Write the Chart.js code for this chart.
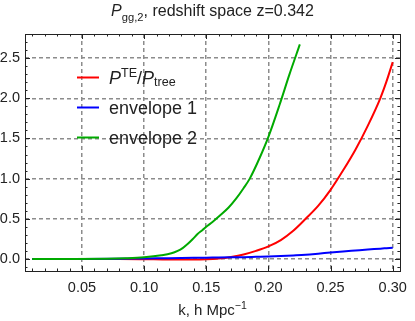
<!DOCTYPE html>
<html>
<head>
<meta charset="utf-8">
<script src="https://cdn.jsdelivr.net/npm/chart.js@4.4.1/dist/chart.umd.min.js"></script>
<style>
  html, body { margin: 0; padding: 0; background: #fff; }
  #chart { display: block; }
</style>
</head>
<body>
<canvas id="chart" width="415" height="321"></canvas>
<script>
// k grid shared by the red and blue curves
const kGrid = [0.01, 0.05, 0.08, 0.10, 0.12, 0.14, 0.15, 0.16, 0.17, 0.18, 0.19,
               0.20, 0.21, 0.22, 0.23, 0.24, 0.25, 0.26, 0.27, 0.28, 0.29, 0.295, 0.30];
const ratioVals = [0, 0, 0, -0.003, -0.008, -0.008, -0.005, 0.005, 0.025, 0.055, 0.10,
                   0.156, 0.235, 0.35, 0.50, 0.66, 0.86, 1.10, 1.36, 1.66, 2.00, 2.21, 2.45];
const env1Vals = [0, 0, 0.002, 0.006, 0.01, 0.014, 0.016, 0.018, 0.02, 0.022, 0.026,
                  0.03, 0.036, 0.044, 0.053, 0.066, 0.08, 0.093, 0.105, 0.117, 0.128, 0.134, 0.14];

// envelope 2 stops early, own grid
const kEnv2 = [0.01, 0.04, 0.07, 0.085, 0.10, 0.114, 0.122, 0.127, 0.131, 0.135, 0.139,
               0.143, 0.147, 0.15, 0.155, 0.161, 0.168, 0.174, 0.18, 0.185, 0.193,
               0.20, 0.209, 0.217, 0.2253];
const env2Vals = [0, 0, 0.002, 0.008, 0.02, 0.045, 0.07, 0.10, 0.135, 0.185, 0.245,
                  0.31, 0.36, 0.40, 0.46, 0.54, 0.64, 0.75, 0.88, 1.0, 1.26,
                  1.52, 1.92, 2.30, 2.67];

const xTicks = [0.05, 0.10, 0.15, 0.20, 0.25, 0.30];
const yTicks = [0.0, 0.5, 1.0, 1.5, 2.0, 2.5];

const RED = "#ff0000";
const BLUE = "#0000ff";
const GREEN = "#00aa00";
const FONT = '"Liberation Sans", Arial, sans-serif';
const TEXT = "#222";
const GRID = "#8c8c8c";

const toPts = (xs, ys) => xs.map((x, i) => ({ x: x, y: ys[i] }));

// draws a run of text pieces, some italic / sub / sup
function richText(ctx, segs, x, y, size, align, subDy, supDy) {
  const fontOf = s => (s.i ? "italic " : "") + (s.s ? size * 0.7 : size) + "px " + FONT;
  let total = 0;
  segs.forEach(s => { ctx.font = fontOf(s); total += ctx.measureText(s.t).width; });
  let cx = align === "center" ? x - total / 2 : x;
  ctx.textAlign = "left";
  ctx.textBaseline = "alphabetic";
  segs.forEach(s => {
    ctx.font = fontOf(s);
    let dy = 0;
    if (s.s === "sub") dy = subDy;
    if (s.s === "sup") dy = -supDy;
    ctx.fillText(s.t, cx, y + dy);
    cx += ctx.measureText(s.t).width;
  });
}

const legendItems = [
  { color: RED, segs: [{ t: "P", i: true }, { t: "TE", s: "sup" }, { t: "/" }, { t: "P", i: true }, { t: "tree", s: "sub" }] },
  { color: BLUE, segs: [{ t: "envelope 1" }] },
  { color: GREEN, segs: [{ t: "envelope 2" }] }
];

const decorations = {
  id: "decorations",
  afterDraw(chart) {
    const ctx = chart.ctx;
    const area = chart.chartArea;
    const xs = chart.scales.x;
    const ys = chart.scales.y;
    ctx.save();

    // inward ticks on all four sides
    ctx.strokeStyle = "#222";
    ctx.lineWidth = 1;
    ctx.beginPath();
    for (let i = 1; i <= 30; i++) {
      const v = i / 100;
      const px = Math.round(xs.getPixelForValue(v)) + 0.5;
      const len = (i % 5 === 0) ? 5 : 2.5;
      ctx.moveTo(px, area.bottom); ctx.lineTo(px, area.bottom - len);
      ctx.moveTo(px, area.top); ctx.lineTo(px, area.top + len);
    }
    for (let i = -1; i <= 27; i++) {
      const v = i / 10;
      const py = Math.round(ys.getPixelForValue(v)) + 0.5;
      const len = (i % 5 === 0) ? 5 : 2.5;
      ctx.moveTo(area.left, py); ctx.lineTo(area.left + len, py);
      ctx.moveTo(area.right, py); ctx.lineTo(area.right - len, py);
    }
    ctx.stroke();

    // frame
    ctx.strokeRect(Math.round(area.left) + 0.5, Math.round(area.top) + 0.5,
                   Math.round(area.right - area.left), Math.round(area.bottom - area.top));

    ctx.fillStyle = TEXT;
    const midX = (area.left + area.right) / 2;

    // title
    richText(ctx, [{ t: "P", i: true }, { t: "gg,2", s: "sub" }, { t: ", redshift space z=0.342" }],
             midX, 15.5, 16, "center", 5, 0);

    // x axis title
    richText(ctx, [{ t: "k, h Mpc" }, { t: "\u22121", s: "sup" }],
             midX, 314.5, 15, "center", 0, 6);

    // legend
    legendItems.forEach((it, n) => {
      const ly = 77.5 + n * 30;
      ctx.strokeStyle = it.color;
      ctx.lineWidth = 2;
      ctx.beginPath();
      ctx.moveTo(area.left + 52, ly);
      ctx.lineTo(area.left + 74, ly);
      ctx.stroke();
      ctx.fillStyle = TEXT;
      richText(ctx, it.segs, area.left + 84, ly + 6.5, 18, "left", 2, 7);
    });

    ctx.restore();
  }
};

new Chart(document.getElementById("chart").getContext("2d"), {
  type: "line",
  data: {
    datasets: [
      { data: toPts(kGrid, ratioVals), borderColor: RED, order: 2 },
      { data: toPts(kGrid, env1Vals), borderColor: BLUE, order: 1 },
      { data: toPts(kEnv2, env2Vals), borderColor: GREEN, order: 0 }
    ]
  },
  options: {
    responsive: false,
    animation: false,
    devicePixelRatio: 1,
    layout: { padding: { top: 34, right: 9, left: 0, bottom: 0 } },
    elements: {
      point: { radius: 0 },
      line: { borderWidth: 2, cubicInterpolationMode: "monotone", fill: false }
    },
    plugins: {
      legend: { display: false },
      tooltip: { enabled: false },
      title: { display: false }
    },
    scales: {
      x: {
        type: "linear",
        min: 0.0042,
        max: 0.3058,
        afterFit: s => { s.height = 50; },
        afterBuildTicks: s => { s.ticks = xTicks.map(v => ({ value: v })); },
        ticks: {
          padding: 8,
          color: TEXT,
          maxRotation: 0,
          autoSkip: false,
          font: { family: FONT, size: 14.5 },
          callback: v => Number(v).toFixed(2)
        },
        grid: { color: GRID, lineWidth: 1.5, drawTicks: false },
        border: { display: false, dash: [4, 3] }
      },
      y: {
        type: "linear",
        min: -0.15,
        max: 2.8,
        afterFit: s => { s.width = 25; },
        afterBuildTicks: s => { s.ticks = yTicks.map(v => ({ value: v })); },
        ticks: {
          padding: 5,
          color: TEXT,
          font: { family: FONT, size: 14.5 },
          callback: v => Number(v).toFixed(1)
        },
        grid: { color: GRID, lineWidth: 1.5, drawTicks: false },
        border: { display: false, dash: [4, 3] }
      }
    }
  },
  plugins: [decorations]
});
</script>
</body>
</html>
